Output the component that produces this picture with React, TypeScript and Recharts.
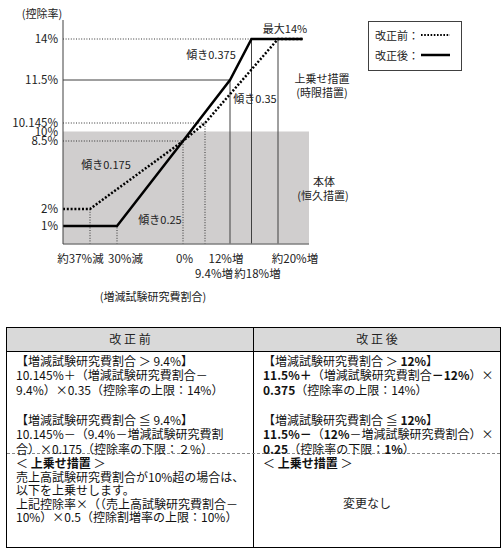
import { LineChart, Line, XAxis, YAxis, ReferenceArea, ReferenceLine, Legend } from 'recharts';

// x: 増減試験研究費割合 (%), y: 控除率 (%)
const xTicks = [-37, -30, 0, 9.4, 12, 18, 20];
const xTickLabels = ['約37%減', '30%減', '0%', '9.4%増', '12%増', '約18%増', '約20%増'];
const yTicks = [1, 2, 8.5, 10, 10.145, 11.5, 14];
const yTickLabels = ['1%', '2%', '8.5%', '10%', '10.145%', '11.5%', '14%'];

// 改正前 (dotted)
const beforeRatio = [-45, -37, 0, 9.4, 20, 22.4];
const beforeRate = [2, 2, 8.5, 10.145, 14, 14];
// 改正後 (solid)
const afterRatio = [-45, -30, 0, 12, 18, 22.4];
const afterRate = [1, 1, 8.5, 11.5, 14, 14];

const xDomain = [-45, 23];
const yDomain = [0, 15];
const baseLimit = 10; // 本体 (恒久措置) upper edge

// guide lines
const vGuideX = [-37, -30, 0, 9.4, 12, 18, 20];
const vGuideTop = [2, 1, 8.5, 10.145, 11.5, 14, 14];
const vGuideSolid = [false, false, false, false, true, true, true];
const hGuideY = [14, 11.5, 10.145, 8.5];
const hGuideEnd = [18, 12, 9.4, 0];
const hGuideSolid = [false, true, false, false];

const legendLabels = ['改正前：', '改正後：'];

// the drawing is schematic, so the axes are piecewise: knot value -> pixel offset along the plot
const xKnots = [-45, -37, -30, 0, 9.4, 12, 18, 20, 23];
const xSpots = [0, 27, 54, 120, 142, 167, 188.5, 215, 246];
const yKnots = [0, 1, 2, 8.5, 10, 10.145, 11.5, 14, 15];
const ySpots = [0, 18, 35, 103, 112.5, 121, 164, 205, 224];

// tick label nudges (label is not centred on its line in the original)
const xTickShift = [-9.5, 8.5, 1.5, 9, -4, 6, 17];
const xTickRow = [0, 0, 0, 1, 0, 1, 0];

const FONT = "'Noto Sans CJK JP', 'Noto Sans', sans-serif";

function knotScale(knots: number[], spots: number[]): any {
  let dom = [knots[0], knots[knots.length - 1]];
  let rng = [0, 1];
  const total = spots[spots.length - 1];
  const scale: any = (v: number) => {
    let i = 0;
    while (i < knots.length - 2 && v > knots[i + 1]) i++;
    const t = (v - knots[i]) / (knots[i + 1] - knots[i]);
    const f = (spots[i] + t * (spots[i + 1] - spots[i])) / total;
    return rng[0] + f * (rng[1] - rng[0]);
  };
  scale.domain = (d?: number[]) => {
    if (!d) return dom;
    dom = d;
    return scale;
  };
  scale.range = (r?: number[]) => {
    if (!r) return rng;
    rng = r;
    return scale;
  };
  scale.copy = () => knotScale(knots, spots).domain(dom).range(rng);
  scale.ticks = () => knots;
  return scale;
}

const xScale = knotScale(xKnots, xSpots);
const yScale = knotScale(yKnots, ySpots);

const beforeData = beforeRatio.map((r, i) => ({ ratio: r, rate: beforeRate[i] }));
const afterData = afterRatio.map((r, i) => ({ ratio: r, rate: afterRate[i] }));

const XTick = (props: any) => {
  const { x, y, payload } = props;
  const i = xTicks.indexOf(payload.value);
  if (i < 0) return null;
  return (
    <text
      x={x + xTickShift[i]}
      y={y + 14 + xTickRow[i] * 15}
      textAnchor="middle"
      dominantBaseline="central"
      fontSize={11.5}
      fill="#222"
      fontFamily={FONT}
    >
      {xTickLabels[i]}
    </text>
  );
};

const LegendBox = () => (
  <div
    style={{
      width: 94,
      height: 50,
      boxSizing: 'border-box',
      border: '1px solid #404040',
      background: '#fff',
      fontFamily: FONT,
      fontSize: 11,
      color: '#222',
      padding: '3px 0 0 6px',
    }}
  >
    {legendLabels.map((label, i) => (
      <div key={label} style={{ display: 'flex', alignItems: 'center', height: 20, whiteSpace: 'nowrap' }}>
        <span style={{ width: 46, flexShrink: 0 }}>{label}</span>
        <svg width={30} height={6} style={{ flexShrink: 0 }}>
          <line
            x1={0}
            y1={3}
            x2={29}
            y2={3}
            stroke="#000"
            strokeWidth={i === 0 ? 2 : 2.5}
            strokeDasharray={i === 0 ? '1.6 1.6' : undefined}
          />
        </svg>
      </div>
    ))}
  </div>
);

const Note = ({ x, y, children, size }: { x: number; y: number; children: any; size?: number }) => (
  <div
    style={{
      position: 'absolute',
      left: x,
      top: y,
      transform: 'translate(-50%, -50%)',
      whiteSpace: 'nowrap',
      fontSize: size ?? 11,
      lineHeight: 1,
      color: '#222',
    }}
  >
    {children}
  </div>
);

const B = ({ children }: { children: any }) => <b style={{ fontWeight: 700 }}>{children}</b>;

const Para = ({ x, top, lh, children }: { x: number; top: number; lh: number; children: any }) => (
  <div style={{ position: 'absolute', left: x, top, lineHeight: `${lh}px`, fontSize: 12, whiteSpace: 'pre' }}>
    {children}
  </div>
);

export default function App() {
  return (
    <div
      style={{
        position: 'absolute',
        left: 0,
        top: 0,
        width: 504,
        height: 551,
        background: '#fff',
        fontFamily: FONT,
        color: '#111',
      }}
    >
      <LineChart width={504} height={310} margin={{ top: 20, right: 195, bottom: 36, left: 3 }}>
        <ReferenceArea
          x1={xDomain[0]}
          x2={xDomain[1]}
          y1={yDomain[0]}
          y2={baseLimit}
          fill="#d0cece"
          fillOpacity={1}
          stroke="none"
        />
        <XAxis
          dataKey="ratio"
          type="number"
          scale={xScale}
          domain={xDomain}
          allowDataOverflow
          ticks={xTicks}
          interval={0}
          tickLine={false}
          tickSize={0}
          tickMargin={0}
          tick={<XTick />}
          axisLine={{ stroke: '#7f7f7f', strokeWidth: 1.5 }}
        />
        <YAxis
          type="number"
          scale={yScale}
          domain={yDomain}
          allowDataOverflow
          ticks={yTicks}
          interval={0}
          width={60}
          tickLine={false}
          tickSize={0}
          tickMargin={5}
          tickFormatter={(v: number) => yTickLabels[yTicks.indexOf(v)]}
          tick={{ fill: '#222', fontSize: 11.5, fontFamily: FONT }}
          axisLine={{ stroke: '#404040', strokeWidth: 1 }}
        />
        {vGuideX.map((x, i) => (
          <ReferenceLine
            key={`v${i}`}
            segment={[
              { x, y: yDomain[0] },
              { x, y: vGuideTop[i] },
            ]}
            stroke={vGuideSolid[i] ? '#404040' : '#333'}
            strokeWidth={1}
            strokeDasharray={vGuideSolid[i] ? undefined : '1 1.6'}
            ifOverflow="visible"
          />
        ))}
        {hGuideY.map((y, i) => (
          <ReferenceLine
            key={`h${i}`}
            segment={[
              { x: xDomain[0], y },
              { x: hGuideEnd[i], y },
            ]}
            stroke={hGuideSolid[i] ? '#404040' : '#333'}
            strokeWidth={1}
            strokeDasharray={hGuideSolid[i] ? undefined : '1 1.6'}
            ifOverflow="visible"
          />
        ))}
        <Line
          data={beforeData}
          dataKey="rate"
          name="改正前"
          type="linear"
          stroke="#000"
          strokeWidth={2.5}
          strokeDasharray="2 1.8"
          dot={false}
          activeDot={false}
          isAnimationActive={false}
        />
        <Line
          data={afterData}
          dataKey="rate"
          name="改正後"
          type="linear"
          stroke="#000"
          strokeWidth={2.5}
          dot={false}
          activeDot={false}
          isAnimationActive={false}
        />
        <Legend
          layout="vertical"
          align="center"
          verticalAlign="middle"
          wrapperStyle={{ left: 368, top: 21, width: 94, height: 50, bottom: 'auto', right: 'auto' }}
          content={() => <LegendBox />}
        />
      </LineChart>

      {/* chart annotations */}
      <Note x={42} y={13}>(控除率)</Note>
      <Note x={285} y={28}>最大14%</Note>
      <Note x={211} y={54}>傾き0.375</Note>
      <Note x={255} y={98}>傾き0.35</Note>
      <Note x={106} y={164}>傾き0.175</Note>
      <Note x={160} y={219}>傾き0.25</Note>
      <Note x={322} y={78}>上乗せ措置</Note>
      <Note x={322} y={92}>(時限措置)</Note>
      <Note x={324} y={181}>本体</Note>
      <Note x={323} y={195}>(恒久措置)</Note>
      <Note x={153} y={296}>(増減試験研究費割合)</Note>

      {/* comparison table */}
      <div
        style={{
          position: 'absolute',
          left: 6,
          top: 327,
          width: 495,
          height: 221,
          boxSizing: 'border-box',
          border: '1px solid #000',
          fontSize: 12,
          color: '#111',
        }}
      >
        <div style={{ position: 'absolute', left: 0, top: 0, width: 493, height: 23, background: '#d9d9d9', borderBottom: '1px solid #000' }} />
        <div style={{ position: 'absolute', left: 246, top: 0, width: 1, height: 219, background: '#000' }} />
        <div style={{ position: 'absolute', left: 0, top: 125, width: 493, height: 0, borderTop: '1px dashed #888' }} />
        <Note x={123} y={11} size={12}>改 正 前</Note>
        <Note x={370} y={11} size={12}>改 正 後</Note>

        <Para x={9} top={25.5} lh={14.5}>
          {'【増減試験研究費割合 ＞ 9.4%】'}
          <br />
          {'10.145%＋（増減試験研究費割合－'}
          <br />
          {'9.4%）×0.35（控除率の上限：14%）'}
        </Para>
        <Para x={9} top={84.5} lh={14.5}>
          {'【増減試験研究費割合 ≦ 9.4%】'}
          <br />
          {'10.145%－（9.4%－増減試験研究費割'}
          <br />
          {'合）×0.175（控除率の下限：２%）'}
        </Para>
        <Para x={9} top={128} lh={13.5}>
          {'＜ '}
          <B>上乗せ措置</B>
          {' ＞'}
          <br />
          {'売上高試験研究費割合が10%超の場合は、'}
          <br />
          {'以下を上乗せします。'}
          <br />
          {'上記控除率×（（売上高試験研究費割合－'}
          <br />
          {'10%）×0.5（控除割増率の上限：10%）'}
        </Para>

        <Para x={256} top={25.5} lh={14.5}>
          {'【増減試験研究費割合 ＞ '}
          <B>12%</B>
          {'】'}
          <br />
          <B>11.5%＋</B>
          {'（増減試験研究費割合'}
          <B>－12%</B>
          {'）×'}
          <br />
          <B>0.375</B>
          {'（控除率の上限：14%）'}
        </Para>
        <Para x={256} top={84.5} lh={14.5}>
          {'【増減試験研究費割合 ≦ '}
          <B>12%</B>
          {'】'}
          <br />
          <B>11.5%－</B>
          {'（'}
          <B>12%</B>
          {'－増減試験研究費割合）×'}
          <br />
          <B>0.25</B>
          {'（控除率の下限：'}
          <B>1%</B>
          {'）'}
        </Para>
        <Para x={256} top={128} lh={13.5}>
          {'＜ '}
          <B>上乗せ措置</B>
          {' ＞'}
        </Para>
        <Note x={360} y={175} size={12}>変更なし</Note>
      </div>
    </div>
  );
}
